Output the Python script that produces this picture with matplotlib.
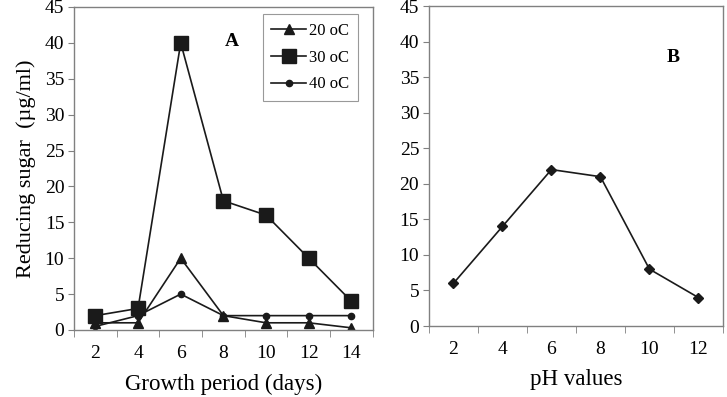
import matplotlib
matplotlib.use('Agg')
import matplotlib.pyplot as plt
import numpy as np

plt.rcParams['font.family'] = ['Liberation Serif', 'DejaVu Serif']

# Panel A: reducing sugar vs growth period
days = ['2', '4', '6', '8', '10', '12', '14']
sugar_20 = [1, 1, 10, 2, 1, 1, 0.3]
sugar_30 = [2, 3, 40, 18, 16, 10, 4]
sugar_40 = [0.5, 2, 5, 2, 2, 2, 2]

# Panel B: reducing sugar vs pH
ph_values = ['2', '4', '6', '8', '10', '12']
sugar_ph = [6, 14, 22, 21, 8, 4]

yticks = list(range(0, 50, 5))
frame = '#808080'
ink = '#1a1a1a'

fig = plt.figure(figsize=(7.27, 3.97), dpi=100)
ax1 = fig.add_axes([0.1018, 0.1688, 0.411, 0.8136])
ax2 = fig.add_axes([0.590, 0.1788, 0.4044, 0.806])


def style_axis(ax, labels):
    n = len(labels)
    x = np.arange(n)
    ax.set_xlim(-0.5, n - 0.5)
    ax.set_ylim(0, 45)
    ax.set_yticks(yticks)
    ax.set_xticks(x)
    ax.set_xticklabels(labels)
    ax.set_xticks(np.arange(n + 1) - 0.5, minor=True)
    ax.tick_params(axis='x', which='major', length=0, pad=11, labelsize=14)
    ax.tick_params(axis='x', which='minor', length=5, color=frame, direction='out')
    ax.tick_params(axis='y', length=4, color=frame, direction='out', labelsize=14, pad=3)
    for s in ax.spines.values():
        s.set_color(frame)
        s.set_linewidth(1.0)
    return x


x1 = style_axis(ax1, days)
ax1.plot(x1, sugar_20, color=ink, lw=1.2, marker='^', ms=6.5, label='20 oC')
ax1.plot(x1, sugar_30, color=ink, lw=1.2, marker='s', ms=10, label='30 oC')
ax1.plot(x1, sugar_40, color=ink, lw=1.2, marker='o', ms=4.5, label='40 oC')
ax1.set_xlabel('Growth period (days)', fontsize=16.5, labelpad=8)
ax1.set_ylabel('Reducing sugar  (µg/ml)', fontsize=16, labelpad=6)
ax1.text(0.505, 0.88, 'A', transform=ax1.transAxes, fontsize=14, fontweight='bold')
leg = ax1.legend(loc='upper right', bbox_to_anchor=(0.95, 0.977), borderaxespad=0,
                 fontsize=12, frameon=True, fancybox=False, edgecolor=frame,
                 handlelength=2.1, borderpad=0.5, labelspacing=0.65, handletextpad=0.2)
leg.get_frame().set_linewidth(0.8)

x2 = style_axis(ax2, ph_values)
ax2.plot(x2, sugar_ph, color=ink, lw=1.2, marker='D', ms=5)
ax2.set_xlabel('pH values', fontsize=16.5, labelpad=8)
ax2.text(0.81, 0.825, 'B', transform=ax2.transAxes, fontsize=14, fontweight='bold')

fig.savefig('out.png', dpi=100)
